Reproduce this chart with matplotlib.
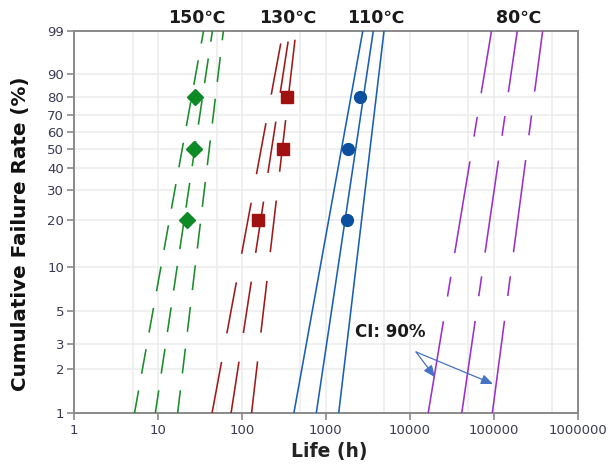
import numpy as np
import matplotlib
matplotlib.use("Agg")
import matplotlib.pyplot as plt
from matplotlib.scale import FuncScale

plt.rcParams['font.family'] = ['DejaVu Sans', 'Noto Sans CJK SC']
plt.rcParams['lines.scale_dashes'] = False

# ---------------- data ----------------
temps = ["150℃", "130℃", "110℃", "80℃"]
# life (h) of lower / median / upper line at F = 1 % and F = 99 %
line_F = [1, 99]
life_150 = [[5.27, 35.0], [9.33, 44.6], [17.2, 60.3]]
life_130 = [[44.2, 310], [74.5, 372], [130.6, 442]]
life_110 = [[417, 2760], [771, 3680], [1426, 4940]]
life_80 = [[16600, 94200], [41700, 191000], [96400, 383000]]

# observed points (cumulative failure %, life h)
pts_F = [20, 50, 80]
pts_150 = [22.2, 26.9, 27.7]
pts_130 = [156, 310, 345]
pts_110 = [1790, 1840, 2560]

yticks = [1, 2, 3, 5, 10, 20, 30, 40, 50, 60, 70, 80, 90, 99]
xticks = [1, 10, 100, 1000, 10000, 100000, 1000000]
xtick_labels = ["1", "10", "100", "1000", "10000", "100000", "1000000"]
xminor = [5, 50, 500, 5000, 50000, 500000]
title_pos = [29.3, 355, 3980, 200000]

# ---------------- styles ----------------
colors = ["#1a8c2a", "#9e1a1a", "#1a5fb4", "#9b30c8"]
mcolors = ["#0d8a26", "#a01212", "#0b4f9e", None]
markers = ["D", "s", "o", None]
dashes = [(1.5, (18, 12.2)), (0, (37.4, 20.9)), None, (0, (67, 18, 14.4, 17.3))]


def fwd(F):
    F = np.clip(np.asarray(F, dtype=float), 1e-6, 100 - 1e-6)
    return np.log(-np.log(1 - F / 100.0))


def inv(y):
    y = np.asarray(y, dtype=float)
    return 100.0 * (1 - np.exp(-np.exp(y)))


fig = plt.figure(figsize=(6.16, 4.75), dpi=100)
ax = fig.add_axes([0.120, 0.1305, 0.8177, 0.8042])
ax.set_xscale("log")
ax.set_yscale(FuncScale(ax, (fwd, inv)))
ax.set_xlim(1, 1e6)
ax.set_ylim(1, 99)

all_lines = [life_150, life_130, life_110, life_80]
all_pts = [pts_150, pts_130, pts_110, None]

for i, lines in enumerate(all_lines):
    for ln in lines:
        ls = "-" if dashes[i] is None else dashes[i]
        ax.plot(ln, line_F, color=colors[i], lw=1.15, zorder=3, linestyle=ls,
                solid_capstyle="butt", dash_capstyle="butt")
    if all_pts[i] is not None:
        ms = 8 if markers[i] == "D" else 8.5
        ax.plot(all_pts[i], pts_F, linestyle="none", marker=markers[i],
                ms=ms, color=mcolors[i], zorder=4)

# grid
ax.set_xticks(xticks)
ax.set_xticklabels(xtick_labels)
ax.set_xticks(xminor, minor=True)
ax.set_yticks(yticks)
ax.set_yticklabels([str(v) for v in yticks])
ax.yaxis.set_minor_locator(matplotlib.ticker.NullLocator())
ax.grid(True, which="both", color="#ececec", lw=1.1, zorder=0)
ax.set_axisbelow(True)

for s in ax.spines.values():
    s.set_color("#8a8a8a")
    s.set_linewidth(1.4)

ax.tick_params(axis="x", which="major", length=5, width=1.2, color="#8a8a8a",
               labelsize=9.5, labelcolor="#3a3a55", pad=3)
ax.tick_params(axis="x", which="minor", length=0)
ax.tick_params(axis="y", which="major", length=5, width=1.2, color="#8a8a8a",
               labelsize=9.5, labelcolor="#3a3a55", pad=2)

ax.set_xlabel("Life (h)", fontsize=13.5, fontweight="bold", color="#222222")
ax.xaxis.set_label_coords(0.506, -0.075)
ax.set_ylabel("Cumulative Failure Rate (%)", fontsize=14.3, fontweight="bold",
              color="#111111")
ax.yaxis.set_label_coords(-0.088, 0.47)

# temperature labels
for t, xp in zip(temps, title_pos):
    ax.text(xp, 1.035, t, transform=ax.get_xaxis_transform(), ha="center",
            va="center", fontsize=12.5, fontweight="bold", color="#1a1a1a")

# CI annotation
ax.text(5850, 3.62, "CI: 90%", ha="center", va="center", fontsize=12,
        fontweight="bold", color="#1a1a1a", zorder=6)
arrow_col = "#4472c4"
for xy in [(19950, 1.77), (97900, 1.59)]:
    ax.annotate("", xy=xy, xytext=(11900, 2.64),
                arrowprops=dict(arrowstyle="-|>,head_length=0.7,head_width=0.3",
                                color=arrow_col, lw=0.9, shrinkA=0, shrinkB=0),
                zorder=6)

fig.savefig("out.png", dpi=100)
